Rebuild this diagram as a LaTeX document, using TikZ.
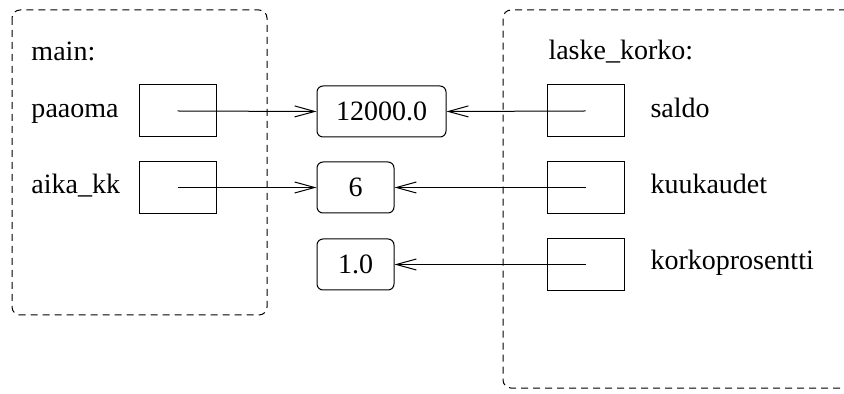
\documentclass[tikz,border=0pt]{standalone}
\usepackage{fontspec}
\setmainfont{Liberation Serif}
\usetikzlibrary{arrows.meta}
\begin{document}
\begin{tikzpicture}[x=0.5pt,y=-0.5pt,line width=0.5pt,
  font=\fontsize{14}{16}\selectfont,
  varbox/.style={draw,minimum width=38.5pt,minimum height=26pt,inner sep=0pt},
  valbox/.style={draw,rounded corners=3pt,minimum height=25.5pt,inner sep=0pt},
  lbl/.style={anchor=base west,inner sep=0pt},
  frame/.style={draw,dashed,dash pattern=on 3.5pt off 2.5pt,rounded corners=4pt},
  ptr/.style={-{Straight Barb[length=10pt,width=5.5pt]}}]
\useasboundingbox (0,0) rectangle (844,394);
\clip (0,0) rectangle (844,394);
% frames
\draw[frame] (12,10) rectangle (267,315);
\draw[frame] (870,10) -- (503,10) -- (503,388) -- (870,388);
% labels
\node[lbl] (tmain) at (31,61) {main:};
\node[lbl] (tpaaoma) at (31,118) {paaoma};
\node[lbl] (taika) at (31,194) {aika\_kk};
\node[lbl] (tlaske) at (548,60) {laske\_korko:};
\node[lbl] (tsaldo) at (650,118) {saldo};
\node[lbl] (tkuu) at (650,194) {kuukaudet};
\node[lbl] (tkorko) at (650,270) {korkoprosentti};
% variable boxes
\node[varbox] (m1) at (177.5,111) {};
\node[varbox] (m2) at (177.5,187.5) {};
\node[varbox] (r1) at (585.5,111) {};
\node[varbox] (r2) at (585.5,187.5) {};
\node[varbox] (r3) at (585.5,264.5) {};
% value boxes
\node[valbox,minimum width=64.5pt] (v1) at (381.5,111.5) {12000.0};
\node[valbox,minimum width=38.5pt] (v2) at (355.5,187.5) {6};
\node[valbox,minimum width=38.5pt] (v3) at (355.5,264.5) {1.0};
% pointers
\draw[ptr] (m1.center) -- (v1.west);
\draw[ptr] (m2.center) -- (v2.west);
\draw[ptr] (r1.center) -- (v1.east);
\draw[ptr] (r2.center) -- (v2.east);
\draw[ptr] (r3.center) -- (v3.east);
\end{tikzpicture}
\end{document}
